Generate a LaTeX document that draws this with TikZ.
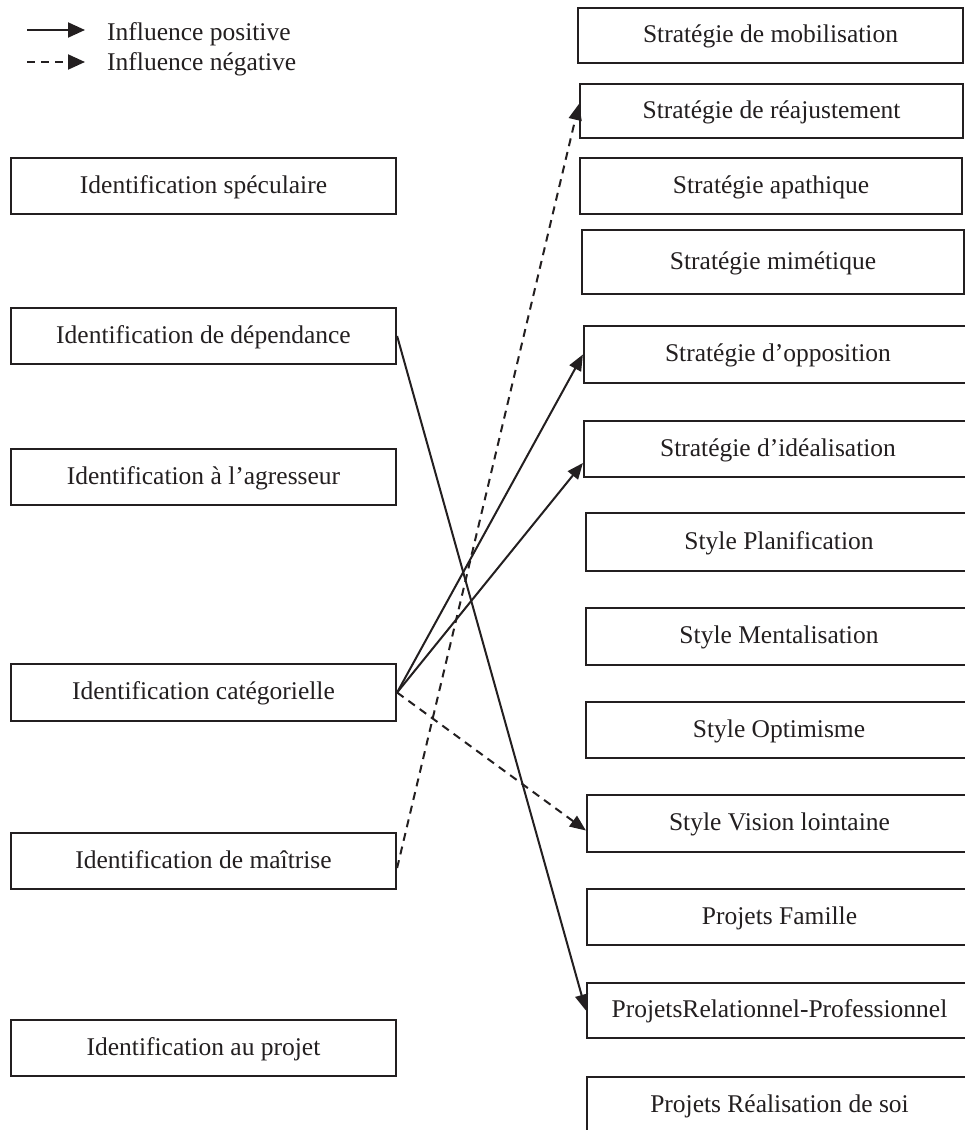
\documentclass[tikz,border=0pt]{standalone}
\usepackage{fontspec}
\setmainfont{Liberation Serif}
\usetikzlibrary{arrows.meta}
\definecolor{ink}{RGB}{35,31,32}
\newcommand{\mybox}[6]{\node[box, minimum width={#4-#2}, minimum height={#5-#3}] (#1) at ({(#2+#4)/2},{(#3+#5)/2}) {#6};}
\begin{document}
\begin{tikzpicture}[x=1pt,y=-1pt,
  box/.style={draw=ink, line width=2.2pt, inner sep=0pt, text=ink,
    font=\fontsize{25.5}{30}\selectfont, text height=19pt, text depth=5pt},
  legtext/.style={inner sep=0pt, text=ink, font=\fontsize{25.5}{30}\selectfont},
  posarrow/.style={draw=ink, line width=2pt, -{Triangle[length=16pt,width=13pt]}},
  negarrow/.style={posarrow, dash pattern=on 8pt off 6pt},
  legposarrow/.style={draw=ink, line width=2pt, -{Triangle[length=17pt,width=15pt]}},
  legnegarrow/.style={legposarrow, dash pattern=on 8pt off 6pt}]
\useasboundingbox (0,0) rectangle (965,1130);
\fill[white] (0,0) rectangle (965,1130);
\clip (0,0) rectangle (965,1130);
% legend
\coordinate (l1a) at (27,30);
\coordinate (l1b) at (85,30);
\coordinate (l2a) at (27,62);
\coordinate (l2b) at (85,62);
\draw[legposarrow] (l1a) -- (l1b);
\draw[legnegarrow] (l2a) -- (l2b);
\node[legtext, anchor=base west] (lt1) at (107,40) {Influence positive};
\node[legtext, anchor=base west] (lt2) at (107,70) {Influence négative};
% left boxes
\mybox{spec}{11}{158}{396}{214}{Identification spéculaire}
\mybox{dep}{11}{308}{396}{364}{Identification de dépendance}
\mybox{agr}{11}{449}{396}{505}{Identification à l’agresseur}
\mybox{cat}{11}{664}{396}{721}{Identification catégorielle}
\mybox{mai}{11}{833}{396}{889}{Identification de maîtrise}
\mybox{proj}{11}{1020}{396}{1076}{Identification au projet}
% right boxes
\mybox{mob}{578}{8}{963}{63}{Stratégie de mobilisation}
\mybox{rea}{580}{84}{963}{138}{Stratégie de réajustement}
\mybox{apa}{580}{158}{962}{214}{Stratégie apathique}
\mybox{mim}{582}{230}{964}{294}{Stratégie mimétique}
\mybox{opp}{584}{326}{972}{383}{Stratégie d’opposition}
\mybox{ide}{584}{421}{972}{477}{Stratégie d’idéalisation}
\mybox{pla}{586}{513}{972}{571}{Style Planification}
\mybox{men}{586}{608}{972}{665}{Style Mentalisation}
\mybox{opt}{586}{702}{972}{758}{Style Optimisme}
\mybox{vis}{587}{795}{972}{852}{Style Vision lointaine}
\mybox{fam}{587}{889}{972}{945}{Projets Famille}
\mybox{rel}{587}{983}{972}{1038}{ProjetsRelationnel-Professionnel}
\mybox{soi}{587}{1077}{972}{1150}{}
\node[legtext, anchor=base] (soit) at (779.5,1112) {Projets Réalisation de soi};
% connectors
\draw[posarrow] (dep.east) -- (rel.west);
\draw[posarrow] (cat.east) -- (opp.west);
\draw[posarrow] (cat.east) -- ([yshift=-14pt]ide.west);
\draw[negarrow] (cat.east) -- ([yshift=-7pt]vis.west);
\draw[negarrow] ([yshift=-7pt]mai.east) -- ([yshift=7pt]rea.west);
\end{tikzpicture}
\end{document}
